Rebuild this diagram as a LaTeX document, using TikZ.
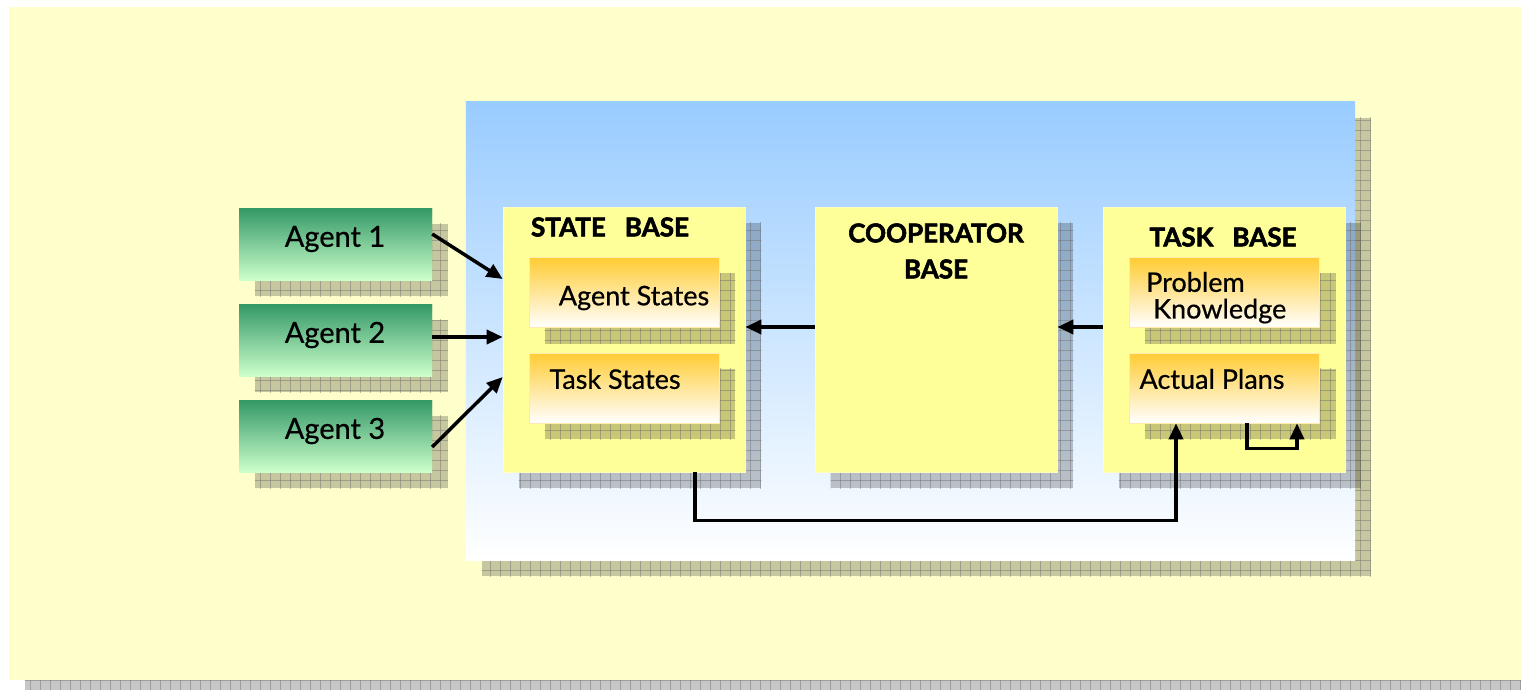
\documentclass[tikz,border=0pt]{standalone}
\usepackage{fontspec}
\setmainfont{Lato}[FakeBold=0.6]
\newfontfamily\heavyfont{Lato Bold}[FakeBold=2.2]
\usetikzlibrary{patterns.meta,arrows.meta}

\definecolor{pagebg}{RGB}{255,255,204}
\definecolor{basefill}{RGB}{255,255,153}
\definecolor{baseedge}{RGB}{255,255,190}
\definecolor{skytop}{RGB}{153,204,255}
\definecolor{agenttop}{RGB}{51,153,102}
\definecolor{agentmid}{RGB}{150,215,165}
\definecolor{agentbot}{RGB}{204,255,204}
\definecolor{itemtop}{RGB}{255,204,51}
\definecolor{itemmid}{RGB}{255,228,160}
\definecolor{gridline}{RGB}{110,110,110}

\tikzset{
  agentbox/.style={inner sep=0pt, minimum width=193pt, minimum height=72pt,
    top color=agenttop, middle color=agentmid, bottom color=agentbot},
  basebox/.style={inner sep=0pt, minimum width=242pt, minimum height=265pt,
    fill=basefill, draw=baseedge, line width=0.6pt},
  itembox/.style={inner sep=0pt, minimum width=190pt, minimum height=70pt,
    top color=itemtop, middle color=itemmid, bottom color=white,
    draw=itemtop!40, line width=0.6pt},
  agenttext/.style={font=\fontsize{29}{32}\selectfont, inner sep=0pt},
  itemtext/.style={font=\fontsize{27}{30}\selectfont, inner sep=0pt},
  titletext/.style={font=\fontsize{26}{29}\selectfont\heavyfont, inner sep=0pt},
  flow/.style={line width=3.5pt, -{Triangle[length=16pt,width=14pt]}},
}

% grey checkered drop shadow behind a rectangular node
\newcommand\castshadow[2]{%
  \fill[black, opacity=0.22]
    ([shift={(#2,#2)}]#1.north west) rectangle ([shift={(#2,#2)}]#1.south east);
  \fill[pattern={Lines[angle=0,distance=10pt,line width=0.7pt]}, pattern color=gridline, opacity=0.45]
    ([shift={(#2,#2)}]#1.north west) rectangle ([shift={(#2,#2)}]#1.south east);
  \fill[pattern={Lines[angle=90,distance=10pt,line width=0.7pt]}, pattern color=gridline, opacity=0.45]
    ([shift={(#2,#2)}]#1.north west) rectangle ([shift={(#2,#2)}]#1.south east);
}

\begin{document}
\begin{tikzpicture}[x=1pt, y=-1pt]
\useasboundingbox (0,0) rectangle (1521,690);

% page
\node[inner sep=0pt, minimum width=1512pt, minimum height=673pt] (page) at (765,343.5) {};
\castshadow{page}{16}
\fill[pagebg] (page.north west) rectangle (page.south east);

% blue panel
\node[inner sep=0pt, minimum width=889pt, minimum height=458pt] (panel) at (910.5,331) {};
\castshadow{panel}{16}
\shade[top color=skytop, bottom color=white] (panel.north west) rectangle (panel.south east);

% agents
\node[agentbox] (a1) at (335.5,244) {};
\node[agentbox] (a2) at (335.5,340) {};
\node[agentbox] (a3) at (335.5,436) {};
\castshadow{a1}{16}
\castshadow{a2}{16}
\castshadow{a3}{16}
\node[agentbox] at (a1) {};
\node[agentbox] at (a2) {};
\node[agentbox] at (a3) {};
\node[agenttext] (t1) at (335,239) {Agent 1};
\node[agenttext] (t2) at (335,335) {Agent 2};
\node[agenttext] (t3) at (335,431) {Agent 3};

% bases
\node[basebox] (sb) at (624,339.5) {};
\node[basebox] (cb) at (936,339.5) {};
\node[basebox] (tb) at (1224,339.5) {};
\castshadow{sb}{16}
\castshadow{cb}{16}
\castshadow{tb}{16}
\node[basebox] at (sb) {};
\node[basebox] at (cb) {};
\node[basebox] at (tb) {};
\node[titletext] (sbt) at (610,227) {STATE\ \ \ BASE};
\node[titletext] (cbt1) at (936,233) {COOPERATOR};
\node[titletext] (cbt2) at (936,269) {BASE};
\node[titletext] (tbt) at (1223,237) {TASK\ \ \ BASE};

% items inside the bases
\node[itembox] (as) at (624,292.5) {};
\node[itembox] (ts) at (624,388) {};
\node[itembox] (pk) at (1224.5,292.5) {};
\node[itembox] (ap) at (1224.5,388) {};
\castshadow{as}{16}
\castshadow{ts}{16}
\castshadow{pk}{16}
\castshadow{ap}{16}
\node[itembox] at (as) {};
\node[itembox] at (ts) {};
\node[itembox] at (pk) {};
\node[itembox] at (ap) {};
\node[itemtext] (ast) at (634,298) {Agent States};
\node[itemtext] (tst) at (615,379) {Task States};
\node[itemtext, anchor=west] (pkt1) at (1146,282) {Problem};
\node[itemtext, anchor=west] (pkt2) at (1153,311) {Knowledge};
\node[itemtext] (apt) at (1212,379) {Actual Plans};

% connectors
\draw[flow] ([yshift=10pt]a1.east) -- ([yshift=60.5pt]sb.west);
\draw[flow] ([yshift=3pt]a2.east) -- ([yshift=2.5pt]sb.west);
\draw[flow] ([yshift=-11pt]a3.east) -- ([yshift=-37.5pt]sb.west);
\draw[flow] ([yshift=12.5pt]cb.west) -- ([yshift=12.5pt]sb.east);
\draw[flow] ([yshift=12.5pt]tb.west) -- ([yshift=12.5pt]cb.east);
\draw[flow] ([xshift=71pt]sb.south) -- ++(0,48) -| ([xshift=-48.5pt]ap.south);
\draw[flow] ([xshift=22.5pt]ap.south) -- ++(0,25) -| ([xshift=72.5pt]ap.south);
\end{tikzpicture}
\end{document}
